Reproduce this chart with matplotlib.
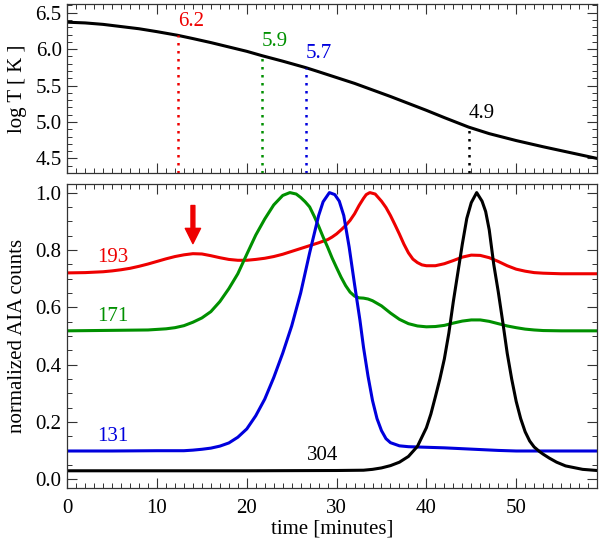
import matplotlib
matplotlib.use("Agg")
import matplotlib.pyplot as plt
from matplotlib.ticker import MultipleLocator, FormatStrFormatter

plt.rcParams['font.family'] = ['Liberation Serif', 'DejaVu Serif']

# --- top panel: temperature history ---
t_temp = [0, 2, 4, 6, 8, 10, 12.3, 14, 16, 18, 20, 21.7, 24, 26.6, 28, 30, 32,
          34, 36, 38, 40, 42, 44.7, 47, 50, 53, 56, 59]
logT = [6.37, 6.36, 6.34, 6.31, 6.28, 6.24, 6.19, 6.145, 6.09, 6.03, 5.97,
        5.91, 5.835, 5.745, 5.69, 5.61, 5.53, 5.44, 5.35, 5.255, 5.16, 5.06,
        4.93, 4.84, 4.745, 4.66, 4.58, 4.50]

# peak-temperature markers for each channel
mark_t = [12.3, 21.7, 26.6, 44.7]
mark_T = [6.19, 5.91, 5.745, 4.93]
mark_lbl = ['6.2', '5.9', '5.7', '4.9']

# --- bottom panel: normalized light curves ---
t_193 = [0, 2, 4, 5, 6, 7, 8, 9, 10, 11, 12, 13, 14, 15, 16, 17, 18, 19, 20, 21,
         22, 23, 24, 25, 26, 27, 28, 29, 29.5, 30, 30.5, 31, 31.5, 32, 32.5, 33,
         33.3, 33.7, 34.3, 35, 35.5, 36, 36.5, 37, 37.5, 38, 38.5, 39, 39.5, 40,
         41, 42, 43, 44, 45, 46, 47, 48, 49, 50, 51, 52, 53, 55, 59]
c_193 = [0.720, 0.721, 0.724, 0.727, 0.731, 0.736, 0.743, 0.751, 0.760, 0.769,
         0.777, 0.783, 0.787, 0.786, 0.780, 0.773, 0.767, 0.764, 0.764, 0.767,
         0.771, 0.777, 0.785, 0.795, 0.805, 0.815, 0.825, 0.836, 0.845, 0.856,
         0.870, 0.885, 0.903, 0.926, 0.955, 0.980, 0.993, 1.000, 0.995, 0.970,
         0.948, 0.920, 0.888, 0.855, 0.820, 0.790, 0.768, 0.756, 0.748, 0.745,
         0.745, 0.752, 0.763, 0.775, 0.782, 0.781, 0.773, 0.760, 0.745, 0.733,
         0.726, 0.721, 0.719, 0.717, 0.717]

t_171 = [0, 3, 6, 9, 10, 11, 12, 13, 14, 15, 16, 17, 18, 19, 20, 21, 22, 23,
         24, 24.8, 25.5, 26, 26.5, 27, 27.5, 28, 28.5, 29, 29.5, 30, 30.5, 31,
         31.5, 32, 32.5, 33, 33.5, 34, 35, 36, 37, 38, 39, 40, 41, 42, 43, 44,
         45, 46, 47, 48, 49, 50, 51, 52, 53, 55, 59]
c_171 = [0.518, 0.519, 0.520, 0.521, 0.523, 0.525, 0.529, 0.536, 0.548, 0.563,
         0.585, 0.620, 0.665, 0.717, 0.785, 0.852, 0.908, 0.957, 0.990, 1.000,
         0.995, 0.983, 0.968, 0.950, 0.918, 0.883, 0.845, 0.810, 0.772, 0.738,
         0.705, 0.676, 0.653, 0.639, 0.633, 0.632, 0.629, 0.623, 0.605, 0.580,
         0.558, 0.543, 0.535, 0.532, 0.533, 0.537, 0.545, 0.552, 0.556, 0.556,
         0.551, 0.543, 0.535, 0.529, 0.524, 0.521, 0.519, 0.518, 0.518]

t_131 = [0, 5, 10, 13, 14, 15, 16, 17, 18, 19, 20, 21, 22, 23, 24, 25, 26, 27,
         28, 28.5, 29.2, 29.8, 30.3, 30.8, 31.4, 32, 32.6, 33, 33.5, 34, 34.5,
         35, 35.5, 36, 37, 38, 40, 42, 44, 46, 48, 50, 55, 59]
c_131 = [0.099, 0.099, 0.100, 0.100, 0.102, 0.105, 0.109, 0.116, 0.127, 0.147,
         0.176, 0.222, 0.280, 0.355, 0.440, 0.535, 0.650, 0.790, 0.920, 0.968,
         1.000, 0.993, 0.970, 0.920, 0.810, 0.680, 0.555, 0.460, 0.360, 0.275,
         0.212, 0.170, 0.142, 0.128, 0.117, 0.114, 0.112, 0.110, 0.107, 0.104,
         0.101, 0.099, 0.099, 0.099]

t_304 = [0, 10, 20, 30, 33, 34, 35, 36, 37, 38, 39, 40, 40.5, 41, 41.5, 42, 42.5,
         43, 43.5, 44, 44.5, 45, 45.6, 46.2, 46.6, 47, 47.5, 48, 48.5, 49, 49.5,
         50, 50.5, 51, 51.5, 52, 52.6, 53, 53.7, 54.5, 55.5, 57.4, 59]
c_304 = [0.030, 0.030, 0.030, 0.031, 0.032, 0.035, 0.040, 0.048, 0.060, 0.080,
         0.115, 0.180, 0.228, 0.288, 0.350, 0.420, 0.510, 0.620, 0.720, 0.820,
         0.910, 0.965, 1.000, 0.970, 0.934, 0.870, 0.750, 0.655, 0.550, 0.440,
         0.350, 0.272, 0.212, 0.166, 0.134, 0.113, 0.097, 0.088, 0.074, 0.060,
         0.047, 0.035, 0.031]

channels = ['193', '171', '131', '304']
colors = ['#ee0000', '#009000', '#0000dd', 'black']
lbl_pos = [(3.3, 0.757), (3.3, 0.552), (3.3, 0.135), (26.7, 0.066)]

fs = 15

fig = plt.figure(figsize=(6.0, 5.45), dpi=100)
ax1 = fig.add_axes([0.112, 0.6826, 0.883, 0.3101])
ax2 = fig.add_axes([0.112, 0.1046, 0.883, 0.5578])


def style_axis(ax):
    for sp in ax.spines.values():
        sp.set_linewidth(0.9)
        sp.set_color('#333333')
    ax.tick_params(which='both', direction='in', top=True, right=True,
                   labelsize=fs, color='#333333')
    ax.tick_params(which='major', length=7, width=0.8)
    ax.tick_params(which='minor', length=3.5, width=0.7)
    ax.tick_params(axis='x', pad=8)
    ax.tick_params(axis='y', pad=4)
    ax.xaxis.set_major_locator(MultipleLocator(10))
    ax.xaxis.set_minor_locator(MultipleLocator(1))
    ax.set_xlim(0, 59)


# top panel
style_axis(ax1)
ax1.plot(t_temp, logT, color='black', lw=2.2)
ymin1 = 4.3
for t, T, lab, c in zip(mark_t, mark_T, mark_lbl, colors):
    ax1.plot([t, t], [ymin1, T], color=c, lw=1.8, linestyle=(0, (1, 2.2)))
    ax1.text(t, T + 0.13, lab, color=c, fontsize=fs, ha='left', va='baseline')
ax1.set_ylim(ymin1, 6.62)
ax1.yaxis.set_major_locator(MultipleLocator(0.5))
ax1.yaxis.set_minor_locator(MultipleLocator(0.1))
ax1.yaxis.set_major_formatter(FormatStrFormatter('%.1f'))
ax1.set_xticklabels([])
ax1.set_ylabel('log T [ K ]', fontsize=fs, labelpad=6)

# bottom panel
style_axis(ax2)
curves = [(t_193, c_193), (t_171, c_171), (t_131, c_131), (t_304, c_304)]
for (t, c), col in zip(curves, colors):
    ax2.plot(t, c, color=col, lw=2.2, solid_joinstyle='round')
for name, col, (x, y) in zip(channels, colors, lbl_pos):
    ax2.text(x, y, name, color=col, fontsize=fs, ha='left', va='baseline')

ax2.annotate('', xy=(14, 0.822), xytext=(14, 0.955),
             arrowprops=dict(facecolor='#ee0000', edgecolor='#ee0000',
                             width=2.8, headwidth=11, headlength=11, shrink=0))

ax2.set_ylim(-0.03, 1.03)
ax2.yaxis.set_major_locator(MultipleLocator(0.2))
ax2.yaxis.set_minor_locator(MultipleLocator(0.05))
ax2.yaxis.set_major_formatter(FormatStrFormatter('%.1f'))
ax2.set_xlabel('time [minutes]', fontsize=fs, labelpad=1)
ax2.set_ylabel('normalized AIA counts', fontsize=fs, labelpad=6)

fig.savefig('out.png', dpi=100)
